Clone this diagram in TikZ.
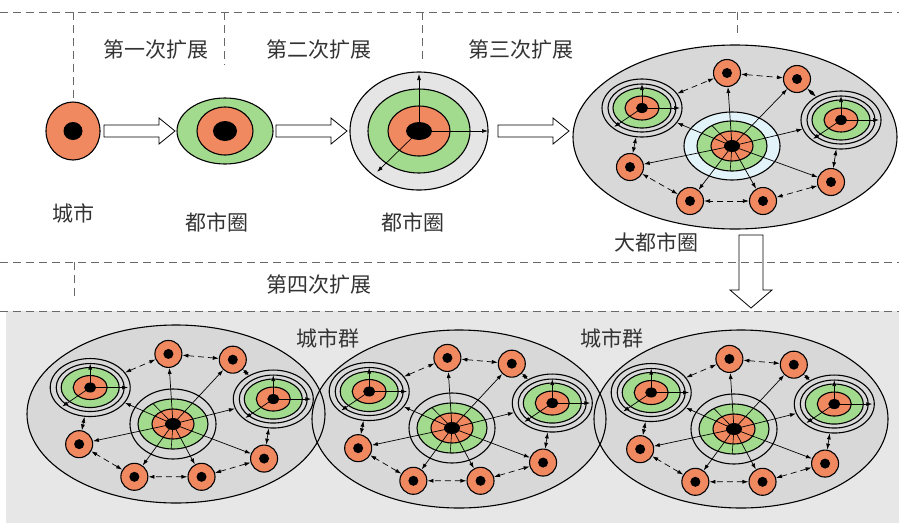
\documentclass[tikz,border=0pt]{standalone}
\usepackage{fontspec}
\newfontfamily\cjk{Noto Sans CJK SC}
\usetikzlibrary{arrows.meta,shapes.geometric}

\definecolor{orangeC}{RGB}{240,136,96}
\definecolor{greenC}{RGB}{163,219,142}
\definecolor{blueC}{RGB}{226,243,249}
\definecolor{groupC}{RGB}{216,216,216}
\definecolor{paneC}{RGB}{231,231,231}
\definecolor{haloC}{RGB}{229,229,229}
\definecolor{guideC}{RGB}{105,105,105}

\tikzset{
  town/.style={circle, draw, line width=1.1pt, fill=orangeC, minimum size=27pt, inner sep=0pt,
    path picture={\fill[black] (path picture bounding box.center) circle (5pt);}},
  hub/.style={ellipse, draw, line width=1.1pt, fill=groupC, minimum width=80pt, minimum height=58pt, inner sep=0pt,
    path picture={
      \coordinate (hc) at (path picture bounding box.center);
      \draw[line width=1.1pt] (hc) ellipse [x radius=34pt, y radius=24pt];
      \filldraw[fill=greenC, line width=1.1pt] (hc) ellipse [x radius=29pt, y radius=20pt];
      \filldraw[fill=orangeC, line width=1.1pt] (hc) ellipse [x radius=17pt, y radius=12pt];
      \fill[black] (hc) ellipse [x radius=6pt, y radius=5pt];
      \draw[link] (hc) -- ++(0pt,24pt);
      \draw[link] (hc) -- ++(38pt,0pt);
      \draw[link] (hc) -- ++(-28pt,-19pt);
    }},
  core/.style={ellipse, draw, line width=1.1pt, inner sep=0pt,
    path picture={
      \coordinate (cc) at (path picture bounding box.center);
      \filldraw[fill=greenC, line width=1.1pt] (cc) ellipse [x radius=35pt, y radius=25pt];
      \filldraw[fill=orangeC, line width=1.1pt] (cc) ellipse [x radius=21pt, y radius=15pt];
      \foreach \a in {125,-93}
        \draw[line width=.6pt] (cc) -- ++(\a:35pt and 25pt);
      \fill[black] (cc) ellipse [x radius=8pt, y radius=6pt];
    }},
  link/.style={-{Latex[length=6pt,width=4pt]}, line width=.7pt},
  twoway/.style={{Latex[length=6pt,width=4pt]}-{Latex[length=6pt,width=4pt]}, line width=.7pt,
    dash pattern=on 6pt off 4pt},
  shortway/.style={{Latex[length=6pt,width=4pt]}-{Latex[length=6pt,width=4pt]}, line width=.7pt},
  guide/.style={guideC, line width=.9pt, dash pattern=on 8pt off 5pt},
  stagetext/.style={font=\cjk\fontsize{21pt}{24pt}\selectfont, text=black!80, inner sep=0pt},
  hollow/.style={draw, line width=.8pt},
}

% one city group: core, two sub-centres, six towns
\newcommand{\citygroup}[4]{%
  \node[core, fill=#2, minimum width=#3, minimum height=#4] (#1c) at (0,0) {};
  \node[hub] (#1ls) at (-90,-38) {};
  \node[hub] (#1rs) at (109,-26) {};
  \node[town] (#1t1) at (-5,-73) {};
  \node[town] (#1t2) at (65,-67) {};
  \node[town] (#1l) at (-102,21) {};
  \node[town] (#1b1) at (-42,55) {};
  \node[town] (#1b2) at (31,55) {};
  \node[town] (#1br) at (99,36) {};
  \foreach \n in {ls,t1,t2,rs,br,b2,b1,l}
    \draw[link] (#1c.center) -- (#1\n);
  \draw[twoway] (#1ls) -- (#1t1);
  \draw[twoway] (#1t1) -- (#1t2);
  \draw[twoway] (#1t2) -- (#1rs);
  \draw[shortway] (#1rs) -- (#1br);
  \draw[twoway] (#1br) -- (#1b2);
  \draw[twoway] (#1b2) -- (#1b1);
  \draw[twoway] (#1b1) -- (#1l);
  \draw[shortway] (#1l) -- (#1ls);
}

\begin{document}
\begin{tikzpicture}[x=1pt, y=-1pt]
  \useasboundingbox (0,0) rectangle (899,528);

  \fill[paneC] (6,311) rectangle (899,523);

  % city
  \filldraw[fill=orangeC, line width=1.1pt] (73,131) ellipse [x radius=27pt, y radius=29pt];
  \fill (73,131) ellipse [x radius=9.5pt, y radius=9pt];

  % metropolitan ring
  \filldraw[fill=greenC, line width=1.1pt] (225,131) ellipse [x radius=48pt, y radius=33pt];
  \filldraw[fill=orangeC, line width=1.1pt] (225,131) ellipse [x radius=28pt, y radius=24pt];
  \fill (225,131) ellipse [x radius=12pt, y radius=10pt];

  % metropolitan ring, grown
  \filldraw[fill=haloC, line width=1.1pt] (419,131) ellipse [x radius=69pt, y radius=59pt];
  \filldraw[fill=greenC, line width=1.1pt] (419,131) ellipse [x radius=51pt, y radius=42pt];
  \filldraw[fill=orangeC, line width=1.1pt] (419,131) ellipse [x radius=31pt, y radius=25pt];
  \fill (419,131) ellipse [x radius=13pt, y radius=9pt];
  \draw[link] (419,131) -- (419,74);
  \draw[link] (419,131) -- (488,131);
  \draw[link] (419,131) -- (377,172);

  \foreach \x in {104,276,498}
    \draw[hollow, fill=white] (\x,125) -- ++(55,0) -- ++(0,-7) -- ++(16,13) -- ++(-16,13) -- ++(0,-7) -- ++(-55,0) -- cycle;

  % big metropolitan ring
  \fill[groupC] (735,137) ellipse [x radius=162pt, y radius=92pt];
  \draw[line width=1.1pt] (735,137) ellipse [x radius=162pt, y radius=92pt];
  \begin{scope}[shift={(732,146)}]
    \citygroup{m}{blueC}{96pt}{68pt}
  \end{scope}

  \draw[hollow] (739,235) -- (763,235) -- (763,290) -- (772,290) -- (751,308) -- (730,290) -- (739,290) -- cycle;

  % city clusters
  \fill[groupC] (176,414) ellipse [x radius=149pt, y radius=89pt];
  \fill[groupC] (459,419) ellipse [x radius=147pt, y radius=89pt];
  \fill[groupC] (741,419) ellipse [x radius=147pt, y radius=89pt];
  \draw[line width=1.1pt] (176,414) ellipse [x radius=149pt, y radius=89pt];
  \draw[line width=1.1pt] (459,419) ellipse [x radius=147pt, y radius=89pt];
  \draw[line width=1.1pt] (741,419) ellipse [x radius=147pt, y radius=89pt];
  \begin{scope}[shift={(173,424)}, xscale=.92, yscale=.96]
    \citygroup{a}{groupC}{86pt}{70pt}
  \end{scope}
  \begin{scope}[shift={(452,428)}, xscale=.92, yscale=.96]
    \citygroup{b}{groupC}{86pt}{70pt}
  \end{scope}
  \begin{scope}[shift={(734,429)}, xscale=.92, yscale=.96]
    \citygroup{d}{groupC}{86pt}{70pt}
  \end{scope}

  % dashed guides
  \draw[guide] (0,12) -- (899,12);
  \draw[guide] (0,262) -- (899,262);
  \draw[guide] (0,311) -- (899,311);
  \draw[guide] (73,12) -- (73,101);
  \draw[guide] (224,12) -- (224,65);
  \draw[guide] (422,12) -- (422,62);
  \draw[guide] (737,12) -- (737,37);
  \draw[guide] (74,262) -- (74,300);

  \node[stagetext] (step1) at (156,50) {第一次扩展};
  \node[stagetext] (step2) at (319,50) {第二次扩展};
  \node[stagetext] (step3) at (521,50) {第三次扩展};
  \node[stagetext] (step4) at (319,285) {第四次扩展};
  \node[stagetext] (city) at (73,213) {城市};
  \node[stagetext] (metro1) at (217,222) {都市圈};
  \node[stagetext] (metro2) at (413,222) {都市圈};
  \node[stagetext] (bigmetro) at (656,242) {大都市圈};
  \node[stagetext] (group1) at (328,338) {城市群};
  \node[stagetext] (group2) at (612,338) {城市群};
\end{tikzpicture}
\end{document}
